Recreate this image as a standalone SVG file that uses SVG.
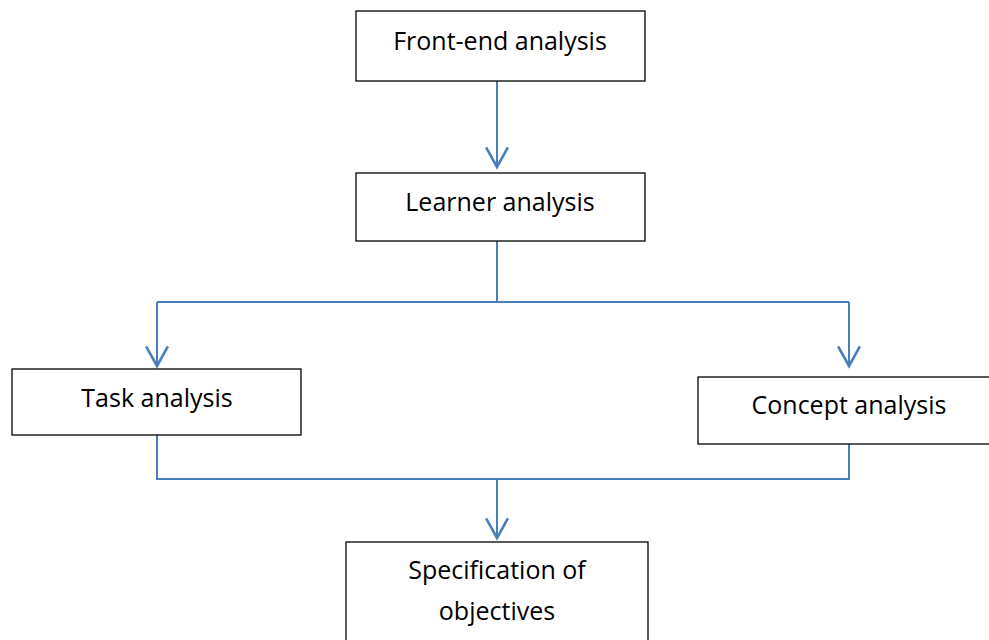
<svg xmlns="http://www.w3.org/2000/svg" width="989" height="640" viewBox="0 0 989 640">
<style>
.box{fill:#fff;stroke:#000;stroke-width:1.3}
.lbl{font-family:"Open Sans","Noto Sans",sans-serif;font-size:25px;fill:#000;text-anchor:middle}
.conn{fill:none;stroke:#4a7ebb;stroke-width:2}
</style>
<defs>
<marker id="arr" markerWidth="24" markerHeight="24" refX="19" refY="11" orient="auto" markerUnits="userSpaceOnUse" viewBox="0 0 22 22">
<path d="M1,1 L19,11 L1,21" fill="none" stroke="#4a7ebb" stroke-width="2.4"/>
</marker>
</defs>
<rect width="989" height="640" fill="#fff"/>
<g id="connectors">
<path class="conn" d="M497,81 V167" marker-end="url(#arr)"/>
<path class="conn" d="M497,241 V302"/>
<path class="conn" d="M157,302 H849"/>
<path class="conn" d="M157,302 V366" marker-end="url(#arr)"/>
<path class="conn" d="M849,302 V366" marker-end="url(#arr)"/>
<path class="conn" d="M157,435 V479 H849 V444"/>
<path class="conn" d="M497,479 V538" marker-end="url(#arr)"/>
</g>
<g id="front-end">
<rect class="box" x="356" y="11" width="289" height="70"/>
<text class="lbl" x="500" y="50">Front-end analysis</text>
</g>
<g id="learner">
<rect class="box" x="356" y="173" width="289" height="68"/>
<text class="lbl" x="500" y="211">Learner analysis</text>
</g>
<g id="task">
<rect class="box" x="12" y="369" width="289" height="66"/>
<text class="lbl" x="157" y="407">Task analysis</text>
</g>
<g id="concept">
<rect class="box" x="698" y="377" width="292" height="67"/>
<text class="lbl" x="849" y="414">Concept analysis</text>
</g>
<g id="spec">
<rect class="box" x="346" y="542" width="302" height="110"/>
<text class="lbl" x="497" y="579">Specification of</text>
<text class="lbl" x="497" y="620">objectives</text>
</g>
</svg>
